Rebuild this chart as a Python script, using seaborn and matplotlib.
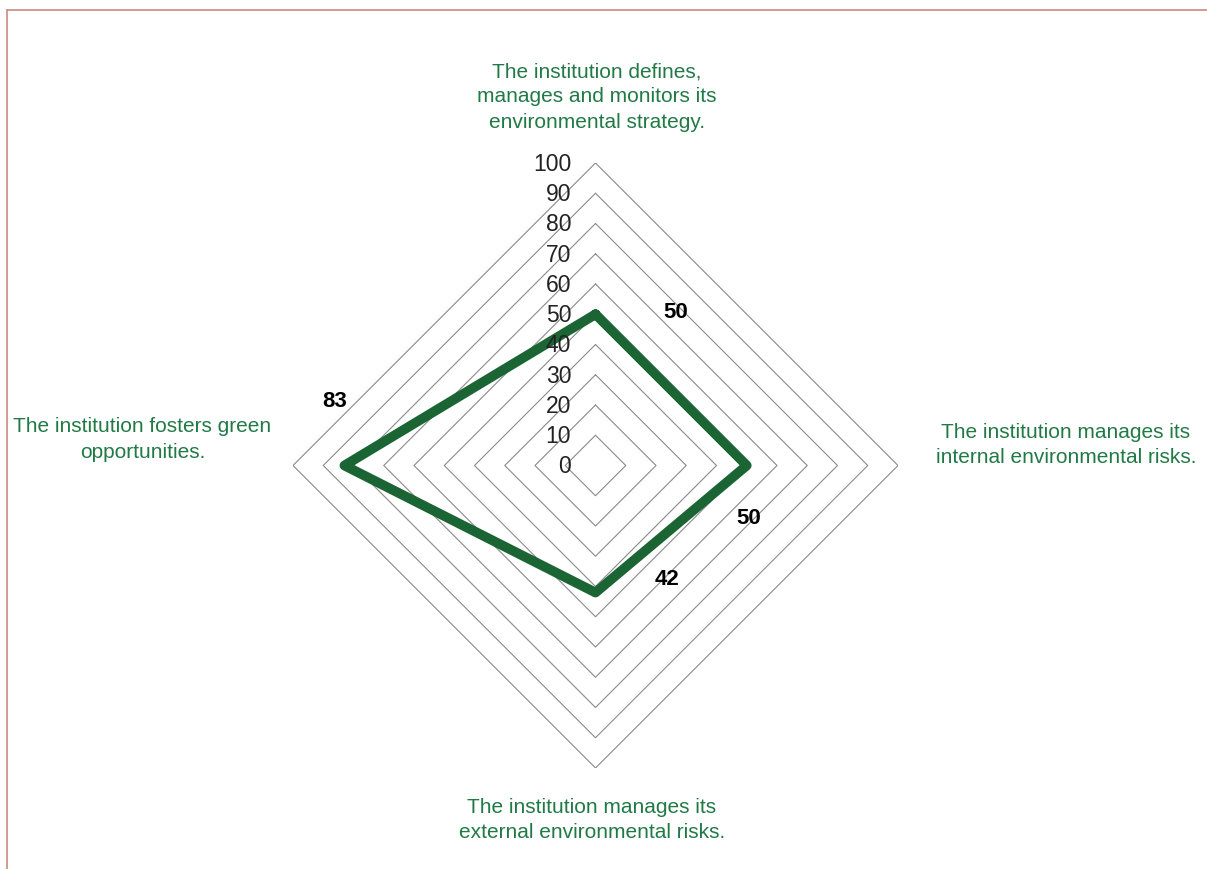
import numpy as np
import matplotlib
matplotlib.use("Agg")
import matplotlib.pyplot as plt
import seaborn as sns
from matplotlib.lines import Line2D

# ---- data ----
categories = [
    "The institution defines,\nmanages and monitors its\nenvironmental strategy.",
    "The institution manages its\ninternal environmental risks.",
    "The institution manages its\nexternal environmental risks.",
    "The institution fosters green\nopportunities.",
]
values = [50, 50, 42, 83]
grid_levels = [10, 20, 30, 40, 50, 60, 70, 80, 90, 100]
tick_labels = ["0", "10", "20", "30", "40", "50", "60", "70", "80", "90", "100"]
tick_values = [0, 10, 20, 30, 40, 50, 60, 70, 80, 90, 100]

sns.set_theme(style="white")
plt.rcParams['font.family'] = ['Liberation Sans', 'DejaVu Sans']

W, H = 1207, 869
fig = plt.figure(figsize=(W / 100, H / 100), dpi=100)

cx, cy, R = 595.5, 465.5, 302.5
ax = fig.add_axes([(cx - R) / W, (H - cy - R) / H, 2 * R / W, 2 * R / H], projection="polar")
ax.set_theta_zero_location("N")
ax.set_theta_direction(-1)
ax.set_ylim(0, 100)
ax.grid(False)
ax.spines["polar"].set_visible(False)
ax.set_xticks([])
ax.set_yticks([])
ax.patch.set_alpha(0)

n = len(categories)
angles = np.linspace(0, 2 * np.pi, n, endpoint=False)
angles_closed = np.concatenate([angles, angles[:1]])

# diamond gridlines
for lvl in grid_levels:
    ax.plot(angles_closed, [lvl] * (n + 1), color="#8a8a8a", lw=0.8, zorder=1)

# data line
vals_closed = values + values[:1]
sns.lineplot(x=angles_closed, y=vals_closed, sort=False, ax=ax,
             color="#1b6434", lw=7, zorder=3, estimator=None)
ax.set_xlabel("")
ax.set_ylabel("")
ax.set_ylim(0, 100)

# radial tick labels
for tv, tl in zip(tick_values, tick_labels):
    ax.annotate(tl, xy=(0, tv), xytext=(-17.5, -1), textcoords="offset points",
                ha="right", va="center", fontsize=16.5, color="#222222", zorder=4)

# data labels
offsets = [(58, 1.5), (1.4, -38.5), (51.5, 9.4), (-7.2, 46.4)]
for a, v, off in zip(angles, values, offsets):
    ax.annotate(str(v), xy=(a, v), xytext=off, textcoords="offset points",
                ha="center", va="center", fontsize=16, fontweight="bold",
                color="black", zorder=5)

# category labels
label_pos = [(597, 97), (1066, 445), (592, 820), (142.5, 439.5)]
green = "#217a45"
for txt, (px, py) in zip(categories, label_pos):
    fig.text(px / W, 1 - py / H, txt, ha="center", va="center",
             fontsize=15, color=green, linespacing=1.42, multialignment="center")

# frame border (top and left)
fig.add_artist(Line2D([6.5 / W, 1], [1 - 10 / H, 1 - 10 / H], transform=fig.transFigure,
                      color="#c98a80", lw=1.2))
fig.add_artist(Line2D([6.5 / W, 6.5 / W], [0, 1 - 10 / H], transform=fig.transFigure,
                      color="#c98a80", lw=1.2))

fig.savefig("out.png", dpi=100)
